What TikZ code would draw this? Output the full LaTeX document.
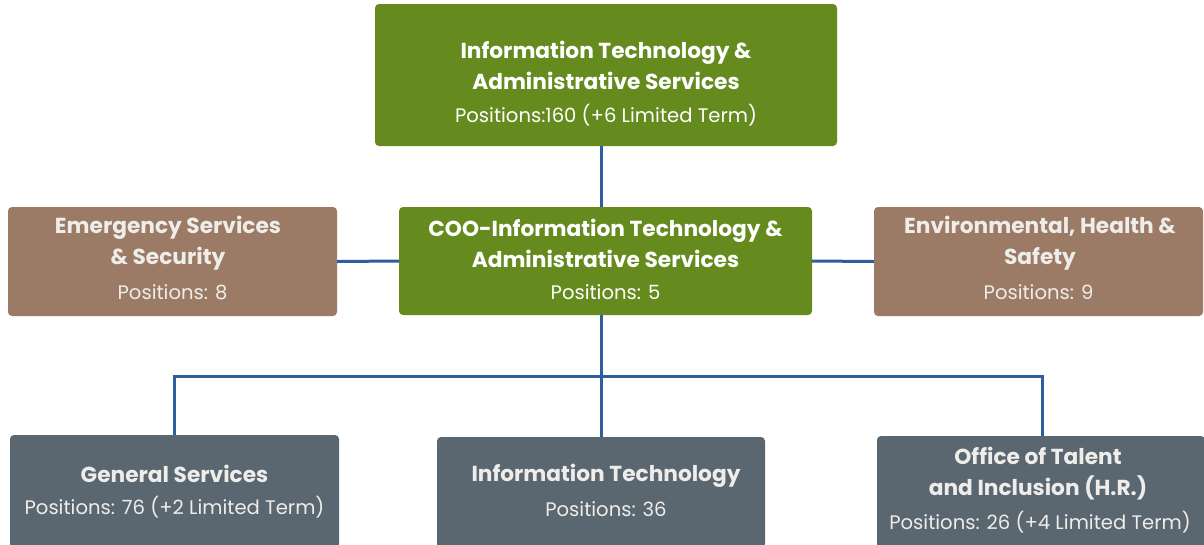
\documentclass[tikz,border=0pt]{standalone}
\usepackage{fontspec}
\setmainfont{Poppins}
\definecolor{topgreen}{HTML}{658B1F}
\definecolor{sidebrown}{HTML}{9B7B65}
\definecolor{unitgray}{HTML}{5B6770}
\definecolor{linkblue}{HTML}{2D5F9F}
\definecolor{lighttext}{HTML}{EEEDEA}
\begin{document}
\begin{tikzpicture}[x=1pt,y=-1pt,
  box/.style={rectangle,rounded corners=4pt,draw=none,inner sep=0pt},
  greenbox/.style={box,fill=topgreen},
  brownbox/.style={box,fill=sidebrown},
  graybox/.style={box,fill=unitgray},
  ttl/.style={font=\fontsize{21.7}{31}\selectfont\bfseries,align=center,inner sep=0pt},
  postext/.style={font=\fontsize{19.6}{22}\selectfont,inner sep=0pt},
  link/.style={draw=linkblue,line width=3pt}
]
\useasboundingbox (0,0) rectangle (1204,544);
\fill[white] (0,0) rectangle (1204,544);

% boxes
\node[greenbox,minimum width=462pt,minimum height=142pt] (top) at (606,75) {};
\node[greenbox,minimum width=413pt,minimum height=108pt] (coo) at (605.5,261) {};
\node[brownbox,minimum width=329pt,minimum height=109pt] (ess) at (172.5,261.5) {};
\node[brownbox,minimum width=329pt,minimum height=109pt] (ehs) at (1038.5,261.5) {};
\node[graybox,minimum width=329pt,minimum height=113pt] (gs) at (174.5,491.5) {};
\node[graybox,minimum width=328pt,minimum height=111pt] (it) at (601,492.5) {};
\node[graybox,minimum width=328pt,minimum height=112pt] (oti) at (1041,492) {};

% connectors
\coordinate (busL) at (174,376);
\coordinate (busR) at (1042,376);
\coordinate (busM) at (601,376);
\draw[link] (601,146) -- (601,207);
\draw[link] (ess.east) -- (coo.west);
\draw[link] (coo.east) -- (ehs.west);
\draw[link] (601,315) -- (it.north -| busM);
\draw[link] (gs.north -| busL) -- (busL) -- (busR) -- (oti.north -| busR);

% texts
\node[ttl,text=white] (toptitle) at (606,65) {Information Technology \&\\Administrative Services};
\node[postext,text=white] (toppos) at (606,115) {Positions:160 (+6 Limited Term)};

\node[ttl,text=white] (cootitle) at (605.5,243) {COO-Information Technology \&\\Administrative Services};
\node[postext,text=white] (coopos) at (605.5,292) {Positions: 5};

\node[ttl,text=lighttext] (esstitle) at (168,243.5) {Emergency Services\\\& Security};
\node[postext,text=lighttext] (esspos) at (172.5,292) {Positions: 8};

\node[ttl,text=lighttext] (ehstitle) at (1040,243.5) {Environmental, Health \&\\Safety};
\node[postext,text=lighttext] (ehspos) at (1038.5,292) {Positions: 9};

\node[ttl,text=lighttext] (gstitle) at (174.5,474) {General Services};
\node[postext,text=lighttext] (gspos) at (174.5,507) {Positions: 76 (+2 Limited Term)};

\node[ttl,text=lighttext] (ittitle) at (606,476) {Information Technology};
\node[postext,text=lighttext] (itpos) at (606,509) {Positions: 36};

\node[ttl,text=lighttext] (otititle) at (1038,474) {Office of Talent\\and Inclusion (H.R.)};
\node[postext,text=lighttext] (otipos) at (1040,522) {Positions: 26 (+4 Limited Term)};
\end{tikzpicture}
\end{document}
